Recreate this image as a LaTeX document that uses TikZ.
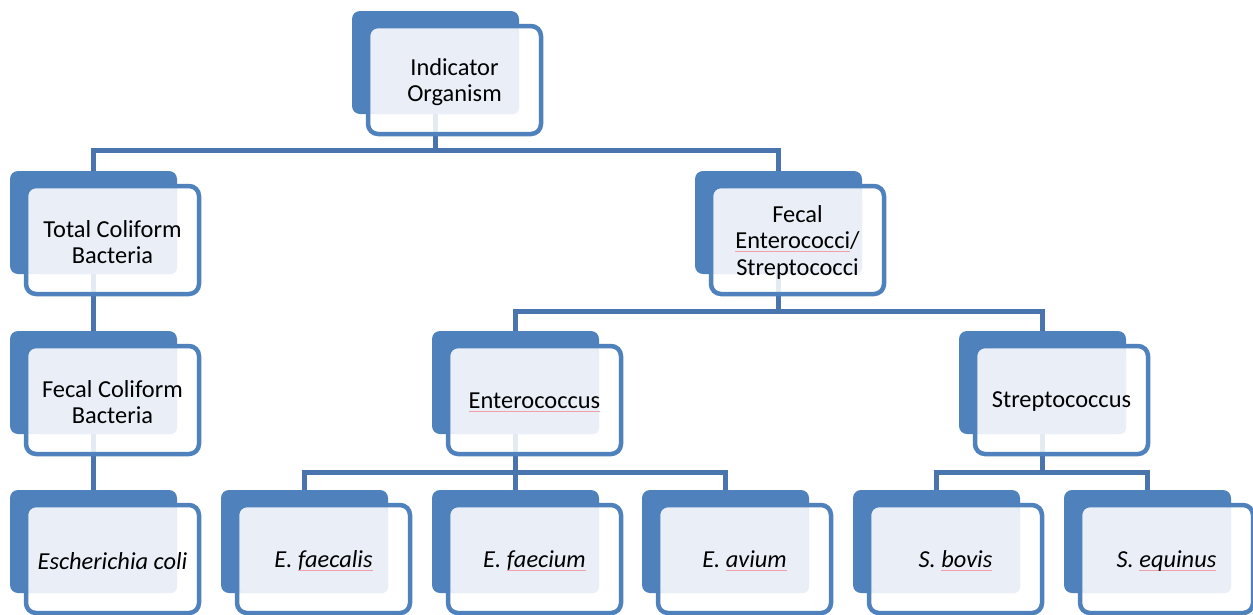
\documentclass[tikz,border=0pt]{standalone}
\usepackage{fontspec}
\setmainfont{Carlito}
\definecolor{boxblue}{HTML}{4F81BD}
\definecolor{linkblue}{HTML}{4A74AE}
\definecolor{pale}{HTML}{EAEFF7}
\definecolor{spell}{HTML}{F0A0A8}
\pgfdeclarelayer{bg}
\pgfsetlayers{bg,main}
\newcommand\spellmark[1]{\setbox0\hbox{#1}\rlap{\color{spell}\rule[-3.5pt]{\wd0}{0.8pt}}\box0}
\tikzset{
  backbox/.style={fill=boxblue, rounded corners=8pt},
  frontfill/.style={fill=white, fill opacity=0.85, rounded corners=10pt},
  frontline/.style={draw=boxblue, line width=4.5pt, rounded corners=10pt},
  textpanel/.style={fill=pale, rounded corners=6pt},
  label/.style={align=center, inner sep=0pt, font=\fontsize{24.4}{26.5}\selectfont, text=black},
  link/.style={draw=linkblue, line width=5pt, line join=miter}
}
% #1 name, #2 x, #3 y (top-left of back panel), #4 text
\newcommand\orgbox[4]{%
  \fill[backbox] (#2,#3) rectangle ({#2+167},{#3+103});
  \fill[frontfill] ({#2+16},{#3+15}) rectangle ({#2+189},{#3+123});
  \fill[textpanel] ({#2+19},{#3+18}) rectangle ({#2+167},{#3+103});
  \draw[frontline] ({#2+16},{#3+15}) rectangle ({#2+189},{#3+123});
  \node[label] (#1) at ({#2+102.5},{#3+71}) {#4};
  \coordinate (#1-n) at ({#2+83.5},#3);
  \coordinate (#1-s) at ({#2+83.5},{#3+103});
}
\begin{document}
\begin{tikzpicture}[x=1pt,y=-1pt]
\useasboundingbox (0,0) rectangle (1253,614);
\orgbox{ind}{352}{11}{Indicator\\Organism}
\orgbox{tcb}{10}{171}{Total Coliform\\Bacteria}
\orgbox{fes}{695}{171}{Fecal\\\spellmark{Enterococci}/\\Streptococci}
\orgbox{fcb}{10}{331}{Fecal Coliform\\Bacteria}
\orgbox{ent}{432}{331}{\spellmark{Enterococcus}}
\orgbox{str}{959}{331}{Streptococcus}
\orgbox{eco}{10}{490}{\itshape Escherichia coli}
\orgbox{efs}{221}{490}{\itshape E. \spellmark{faecalis}}
\orgbox{efm}{432}{490}{\itshape E. \spellmark{faecium}}
\orgbox{eav}{642}{490}{\itshape E. \spellmark{avium}}
\orgbox{sbo}{853}{490}{\itshape S. \spellmark{bovis}}
\orgbox{seq}{1064}{490}{\itshape S. \spellmark{equinus}}
\coordinate (bus1) at (0,150);
\coordinate (bus2) at (0,311);
\coordinate (bus3) at (0,472);
\begin{pgfonlayer}{bg}
\draw[link] (ind-s) -- (ind-s |- bus1) -| (tcb-n);
\draw[link] (ind-s |- bus1) -| (fes-n);
\draw[link] (tcb-s) -- (fcb-n);
\draw[link] (fcb-s) -- (eco-n);
\draw[link] (fes-s) -- (fes-s |- bus2) -| (ent-n);
\draw[link] (fes-s |- bus2) -| (str-n);
\draw[link] (ent-s) -- (ent-s |- bus3) -| (efs-n);
\draw[link] (ent-s |- bus3) -| (eav-n);
\draw[link] (ent-s |- bus3) -- (efm-n);
\draw[link] (str-s) -- (str-s |- bus3) -| (sbo-n);
\draw[link] (str-s |- bus3) -| (seq-n);
\end{pgfonlayer}
\end{tikzpicture}
\end{document}
